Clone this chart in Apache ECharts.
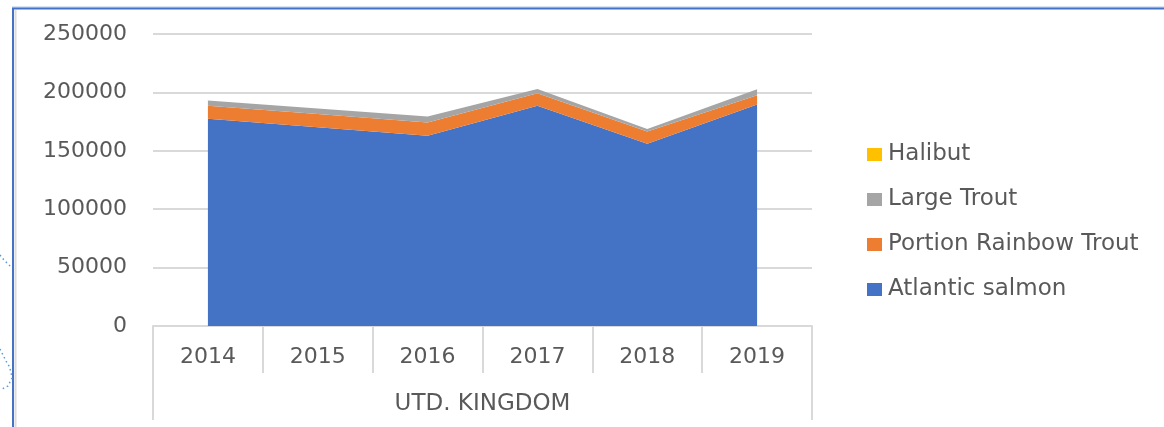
<!DOCTYPE html>
<html>
<head>
<meta charset="utf-8">
<script src="https://cdn.jsdelivr.net/npm/echarts@6/dist/echarts.min.js"></script>
<style>
html,body{margin:0;padding:0;background:#fff;}
#chart{width:1164px;height:427px;}
</style>
</head>
<body>
<div id="chart"></div>
<script>
// ---- data ----
const years = ['2014', '2015', '2016', '2017', '2018', '2019'];
const groupLabel = ['UTD. KINGDOM'];
const atlanticSalmon = [177400, 170100, 162800, 188500, 156000, 189600];
const portionRainbowTrout = [11100, 11300, 11400, 10800, 10500, 8000];
const largeTrout = [4500, 4800, 5100, 3700, 2100, 5100];
const halibut = [0, 0, 0, 0, 0, 0];
const yTicks = { min: 0, max: 250000, interval: 50000 };
const legendOrder = ['Halibut', 'Large Trout', 'Portion Rainbow Trout', 'Atlantic salmon'];

const FONT = 'DejaVu Sans';
const TXT = '#595959';
const GRIDC = '#d9d9d9';

function areaSeries(name, data, color) {
  return {
    name: name, type: 'line', stack: 'total', data: data,
    xAxisIndex: 0, yAxisIndex: 0,
    symbol: 'none', showSymbol: false,
    lineStyle: { width: 0, color: color },
    itemStyle: { color: color },
    areaStyle: { color: color, opacity: 1 },
    emphasis: { disabled: true },
    silent: true, animation: false
  };
}

const chart = echarts.init(document.getElementById('chart'), null, { renderer: 'canvas' });
chart.setOption({
  animation: false,
  backgroundColor: '#ffffff',
  textStyle: { fontFamily: FONT },
  grid: { left: 153, right: 352, top: 34, bottom: 101, containLabel: false },
  legend: {
    orient: 'vertical', left: 862, top: 138,
    data: legendOrder.map(n => ({ name: n, icon: 'rect' })),
    itemWidth: 15, itemHeight: 13, itemGap: 22,
    textStyle: { fontFamily: FONT, fontSize: 23, color: TXT, padding: [0, 0, 0, 1] },
    selectedMode: false
  },
  xAxis: [
    {
      type: 'category', data: years, position: 'bottom', boundaryGap: true,
      axisLine: { show: true, lineStyle: { color: GRIDC, width: 2 } },
      axisTick: { show: true, interval: 0, length: 47, lineStyle: { color: GRIDC, width: 2 } },
      axisLabel: { interval: 0, margin: 20, fontFamily: FONT, fontSize: 22, color: TXT },
      splitLine: { show: false }
    },
    {
      type: 'category', data: groupLabel, position: 'bottom', boundaryGap: true,
      axisLine: { show: false },
      axisTick: { show: true, interval: 0, length: 94, lineStyle: { color: GRIDC, width: 2 } },
      axisLabel: { interval: 0, margin: 67, fontFamily: FONT, fontSize: 23, color: TXT },
      splitLine: { show: false }
    }
  ],
  yAxis: {
    type: 'value', min: yTicks.min, max: yTicks.max, interval: yTicks.interval,
    axisLine: { show: false }, axisTick: { show: false },
    axisLabel: { margin: 26, fontFamily: FONT, fontSize: 22, color: TXT, formatter: v => String(v) },
    splitLine: { show: true, lineStyle: { color: GRIDC, width: 2 } }
  },
  series: [
    areaSeries('Atlantic salmon', atlanticSalmon, '#4472C4'),
    areaSeries('Portion Rainbow Trout', portionRainbowTrout, '#ED7D31'),
    areaSeries('Large Trout', largeTrout, '#A5A5A5'),
    areaSeries('Halibut', halibut, '#FFC000')
  ],
  graphic: [
    { type: 'line', silent: true, shape: { x1: 12, y1: 7, x2: 1164, y2: 7 }, style: { stroke: '#b4c7e7', lineWidth: 1 } },
    { type: 'line', silent: true, shape: { x1: 12, y1: 8.5, x2: 1164, y2: 8.5 }, style: { stroke: '#4472C4', lineWidth: 2 } },
    { type: 'line', silent: true, shape: { x1: 13, y1: 8, x2: 13, y2: 427 }, style: { stroke: '#4472C4', lineWidth: 2 } },
    { type: 'line', silent: true, shape: { x1: 15.5, y1: 10, x2: 15.5, y2: 427 }, style: { stroke: '#dcdcdc', lineWidth: 2 } },
    { type: 'polyline', silent: true, shape: { points: [[0, 255], [4, 260], [8, 264], [12, 268]] }, style: { stroke: '#5b9bd5', lineWidth: 1.5, lineDash: [1.5, 3], fill: null } },
    { type: 'polyline', silent: true, shape: { points: [[0, 349], [3, 355], [6, 361], [9, 366], [11, 372], [12, 378], [8, 386], [2, 389]] }, style: { stroke: '#5b9bd5', lineWidth: 1.5, lineDash: [1.5, 3], fill: null } }
  ]
});
</script>
</body>
</html>
